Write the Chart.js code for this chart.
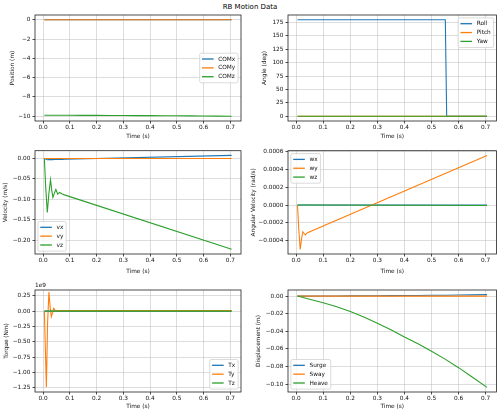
<!DOCTYPE html>
<html>
<head>
<meta charset="utf-8">
<script src="https://cdn.jsdelivr.net/npm/chart.js@4.4.0/dist/chart.umd.min.js"></script>
<style>
body { margin: 0; background: #fff; }
#fig { position: relative; width: 500px; height: 414px; font-family: "DejaVu Sans", sans-serif; }
#title { position: absolute; left: 0; top: 3px; width: 500px; text-align: center; font-size: 7px; color: #000; }
canvas { position: absolute; }
</style>
</head>
<body>
<div id="fig">
  <div id="title">RB Motion Data</div>
  <canvas id="c1" width="250" height="134" style="left:0;top:8px"></canvas>
  <canvas id="c2" width="250" height="134" style="left:250px;top:8px"></canvas>
  <canvas id="c3" width="250" height="135" style="left:0;top:142px"></canvas>
  <canvas id="c4" width="250" height="135" style="left:250px;top:142px"></canvas>
  <canvas id="c5" width="250" height="137" style="left:0;top:277px"></canvas>
  <canvas id="c6" width="250" height="137" style="left:250px;top:277px"></canvas>
</div>
<script>
// x ticks shared by all panels
var timeTicks = [0.0, 0.1, 0.2, 0.3, 0.4, 0.5, 0.6, 0.7];

// position (m)
var tPos = [0.005, 0.05, 0.1, 0.15, 0.2, 0.25, 0.3, 0.35, 0.4, 0.45, 0.5, 0.55, 0.6, 0.65, 0.705];
var comX = [0, 0, 0.0001, 0.0001, 0.0002, 0.0003, 0.0004, 0.0005, 0.0006, 0.0007, 0.0009, 0.001, 0.0012, 0.0014, 0.0016];
var comY = [0, 0, 0, 0, 0, 0, 0, 0, 0, 0, 0, 0, 0, 0, 0];
var comZ = [-9.9, -9.9035, -9.9075, -9.9122, -9.9176, -9.9238, -9.9308, -9.9383, -9.9463, -9.954, -9.9625, -9.9715, -9.9812, -9.9918, -10.0035];
var posTicks = [0, -2, -4, -6, -8, -10];

// angle (deg)
var tAng = [0.005, 0.551, 0.556, 0.705];
var roll = [180, 180, 0, 0];
var pitch = [0, 0, 0, 0];
var yaw = [0, 0, 0, 0];
var angTicks = [0, 25, 50, 75, 100, 125, 150, 175];

// velocity (m/s)
var tVel = [0.005, 0.01, 0.016, 0.022, 0.028, 0.033, 0.037, 0.043, 0.048, 0.055, 0.062, 0.067, 0.072, 0.08, 0.705];
var vx = [0, -0.0015, -0.003, -0.0029, -0.0028, -0.0027, -0.0027, -0.0026, -0.0025, -0.0024, -0.0023, -0.0023, -0.0022, -0.002, 0.0075];
var vy = [0, 0, 0, 0, 0, 0, 0, 0, 0, 0, 0, 0, 0, 0, 0];
var vz = [0, -0.07, -0.132, -0.085, -0.052, -0.08, -0.095, -0.084, -0.076, -0.087, -0.083, -0.085, -0.087, -0.089, -0.222];
var velTicks = [0, -0.05, -0.10, -0.15, -0.20];

// angular velocity (rad/s)
var tAv = [0.005, 0.01, 0.015, 0.02, 0.025, 0.03, 0.034, 0.042, 0.705];
var wx = [0, 0, 0, 0, 0, 0, 0, 0, 0];
var wy = [0, -0.00028, -0.0005, -0.00038, -0.0003, -0.00032, -0.000335, -0.00031, 0.000555];
var wz = [0, 0, 0, 0, 0, 0, 0, 0, -0.000005];
var avTicks = [-0.0004, -0.0002, 0, 0.0002, 0.0004, 0.0006];

// torque (Nm)
var tTq = [0.005, 0.0125, 0.017, 0.022, 0.027, 0.031, 0.036, 0.04, 0.047, 0.055, 0.705];
var tqx = [0, 0, 0, 0, 0, 0, 0, 0, 0, 0, 0];
var tqy = [0, -1.24e9, -0.2e9, 0.31e9, 0.05e9, -0.09e9, -0.02e9, 0.045e9, 0, 0.008e9, 0.008e9];
var tqz = [0, 0, 0, 0, 0, 0, 0, 0, 0, 0, 0];
var tqTicks = [0.25e9, 0, -0.25e9, -0.5e9, -0.75e9, -1.0e9, -1.25e9];

// displacement (m)
var tDisp = [0.005, 0.05, 0.1, 0.15, 0.2, 0.25, 0.3, 0.35, 0.4, 0.45, 0.5, 0.55, 0.6, 0.65, 0.705];
var surge = [0, 0, 0.0001, 0.0001, 0.0002, 0.0003, 0.0004, 0.0005, 0.0006, 0.0007, 0.0009, 0.001, 0.0012, 0.0014, 0.0016];
var sway = [0, 0, 0, 0, 0, 0, 0, 0, 0, 0, 0, 0, 0, 0, 0];
var heave = [0, -0.0035, -0.0075, -0.0122, -0.0176, -0.0238, -0.0308, -0.0383, -0.0463, -0.054, -0.0625, -0.0715, -0.0812, -0.0918, -0.1035];
var dispTicks = [0, -0.02, -0.04, -0.06, -0.08, -0.10];

var colors = ['#1f77b4', '#ff7f0e', '#2ca02c'];
var FONT = 5.8;

Chart.defaults.font.family = 'DejaVu Sans';
Chart.defaults.font.size = FONT;
Chart.defaults.color = '#111';

function fmt(v, d) {
  var s = Math.abs(v).toFixed(d);
  return (v < -1e-12 && Number(s) !== 0 ? '\u2212' : '') + s;
}

function pts(t, arr) {
  return t.map(function (x, i) { return {x: x, y: arr[i]}; });
}

// box around the plot area, legend inside it, optional offset text
var framePlugin = {
  id: 'frame',
  afterDraw: function (chart) {
    var ctx = chart.ctx, a = chart.chartArea, o = chart.options.plugins.frame;
    ctx.save();
    ctx.strokeStyle = '#222';
    ctx.lineWidth = 0.8;
    ctx.strokeRect(a.left, a.top, a.right - a.left, a.bottom - a.top);

    if (o.offsetText) {
      ctx.fillStyle = '#111';
      ctx.font = FONT + 'px "DejaVu Sans"';
      ctx.textBaseline = 'bottom';
      ctx.textAlign = 'left';
      ctx.fillText(o.offsetText, a.left, a.top - 2);
    }

    // legend, matplotlib style
    var sets = chart.data.datasets;
    ctx.font = FONT + 'px "DejaVu Sans"';
    var tw = 0;
    sets.forEach(function (d) { tw = Math.max(tw, ctx.measureText(d.label).width); });
    var pad = 0.4 * FONT, hl = 2 * FONT, htp = 0.8 * FONT, row = 1.25 * FONT + 1.6;
    var w = pad + hl + htp + tw + pad + 0.5;
    var h = pad * 2 + row * sets.length - 1.6;
    var gap = 0.5 * FONT;
    var x, y;
    if (o.loc.indexOf('right') >= 0) x = a.right - gap - w; else x = a.left + gap;
    if (o.loc.indexOf('upper') >= 0) y = a.top + gap;
    else if (o.loc.indexOf('lower') >= 0) y = a.bottom - gap - h;
    else y = (a.top + a.bottom) / 2 - h / 2;
    ctx.fillStyle = 'rgba(255,255,255,0.8)';
    ctx.strokeStyle = '#cccccc';
    ctx.lineWidth = 0.7;
    ctx.beginPath();
    ctx.roundRect(x, y, w, h, 1.5);
    ctx.fill();
    ctx.stroke();
    ctx.textBaseline = 'middle';
    sets.forEach(function (d, i) {
      var cy = y + pad + row * i + FONT * 0.6;
      ctx.strokeStyle = d.borderColor;
      ctx.lineWidth = 1.3;
      ctx.beginPath();
      ctx.moveTo(x + pad, cy);
      ctx.lineTo(x + pad + hl, cy);
      ctx.stroke();
      ctx.fillStyle = '#111';
      ctx.fillText(d.label, x + pad + hl + htp, cy);
    });
    ctx.restore();
  }
};

function panel(id, p) {
  var datasets = p.series.map(function (s, i) {
    return {
      label: s.label,
      data: pts(p.t, s.values),
      borderColor: colors[i],
      backgroundColor: colors[i],
      borderWidth: 1.1,
      pointRadius: 0,
      tension: 0,
      order: p.series.length - i
    };
  });
  function noPad(s) { s.paddingTop = 0; s.paddingBottom = 0; s.paddingLeft = 0; s.paddingRight = 0; }
  return new Chart(document.getElementById(id), {
    type: 'line',
    data: {datasets: datasets},
    plugins: [framePlugin],
    options: {
      responsive: false,
      animation: false,
      events: [],
      layout: {padding: {left: 0, top: p.padTop, right: p.padRight, bottom: 0}},
      plugins: {
        legend: {display: false},
        tooltip: {enabled: false},
        frame: {loc: p.loc, offsetText: p.offsetText || ''}
      },
      scales: {
        x: {
          type: 'linear',
          min: -0.03, max: 0.74,
          afterBuildTicks: function (s) { s.ticks = timeTicks.map(function (v) { return {value: v}; }); },
          afterFit: function (s) { s.height = p.xH; noPad(s); },
          ticks: {padding: 1, maxRotation: 0, autoSkip: false,
                  callback: function (v) { return fmt(v, 1); }},
          grid: {color: 'rgba(176,176,176,0.55)', lineWidth: 0.8, tickColor: '#222', tickLength: 2.5, tickWidth: 0.8},
          border: {display: false},
          title: {display: true, text: 'Time (s)', padding: {top: 0, bottom: p.xTitlePad}, font: {size: FONT}}
        },
        y: {
          type: 'linear',
          min: p.yMin, max: p.yMax,
          afterBuildTicks: function (s) { s.ticks = p.yTicks.map(function (v) { return {value: v}; }); },
          afterFit: function (s) { s.width = p.yW; noPad(s); },
          ticks: {padding: 2, autoSkip: false, callback: p.yFmt},
          grid: {color: 'rgba(176,176,176,0.55)', lineWidth: 0.8, tickColor: '#222', tickLength: 2.5, tickWidth: 0.8},
          border: {display: false},
          title: {display: true, text: p.yLabel, padding: {top: p.yTitlePad, bottom: 0}, font: {size: FONT}}
        }
      }
    }
  });
}

panel('c1', {
  t: tPos,
  series: [{label: 'COMx', values: comX}, {label: 'COMy', values: comY}, {label: 'COMz', values: comZ}],
  yMin: -10.5, yMax: 0.5, yTicks: posTicks, yFmt: function (v) { return fmt(v, 0); },
  yLabel: 'Position (m)', loc: 'center right',
  padTop: 7, padRight: 9, yW: 35, xH: 21, xTitlePad: 2.5, yTitlePad: 8.8
});
panel('c2', {
  t: tAng,
  series: [{label: 'Roll', values: roll}, {label: 'Pitch', values: pitch}, {label: 'Yaw', values: yaw}],
  yMin: -9, yMax: 189, yTicks: angTicks, yFmt: function (v) { return fmt(v, 0); },
  yLabel: 'Angle (deg)', loc: 'upper right',
  padTop: 7, padRight: 3.5, yW: 38, xH: 21, xTitlePad: 2.5, yTitlePad: 11.5
});
panel('c3', {
  t: tVel,
  series: [{label: 'vx', values: vx}, {label: 'vy', values: vy}, {label: 'vz', values: vz}],
  yMin: -0.2335, yMax: 0.019, yTicks: velTicks, yFmt: function (v) { return fmt(v, 2); },
  yLabel: 'Velocity (m/s)', loc: 'lower left',
  padTop: 8.7, padRight: 9, yW: 35, xH: 23, xTitlePad: 2.5, yTitlePad: 2.2
});
panel('c4', {
  t: tAv,
  series: [{label: 'wx', values: wx}, {label: 'wy', values: wy}, {label: 'wz', values: wz}],
  yMin: -0.00055, yMax: 0.00061, yTicks: avTicks, yFmt: function (v) { return fmt(v, 4); },
  yLabel: 'Angular Velocity (rad/s)', loc: 'upper left',
  padTop: 8.7, padRight: 3.5, yW: 38, xH: 23, xTitlePad: 2.5, yTitlePad: 0.5
});
panel('c5', {
  t: tTq,
  series: [{label: 'Tx', values: tqx}, {label: 'Ty', values: tqy}, {label: 'Tz', values: tqz}],
  yMin: -1.32e9, yMax: 0.345e9, yTicks: tqTicks, yFmt: function (v) { return fmt(v / 1e9, 2); },
  yLabel: 'Torque (Nm)', loc: 'lower right', offsetText: '1e9',
  padTop: 13, padRight: 9, yW: 35, xH: 22, xTitlePad: 3.8, yTitlePad: 3.2
});
panel('c6', {
  t: tDisp,
  series: [{label: 'Surge', values: surge}, {label: 'Sway', values: sway}, {label: 'Heave', values: heave}],
  yMin: -0.1088, yMax: 0.0069, yTicks: dispTicks, yFmt: function (v) { return fmt(v, 2); },
  yLabel: 'Displacement (m)', loc: 'lower left',
  padTop: 13, padRight: 3.5, yW: 38, xH: 22, xTitlePad: 3.8, yTitlePad: 5.5
});
</script>
</body>
</html>
